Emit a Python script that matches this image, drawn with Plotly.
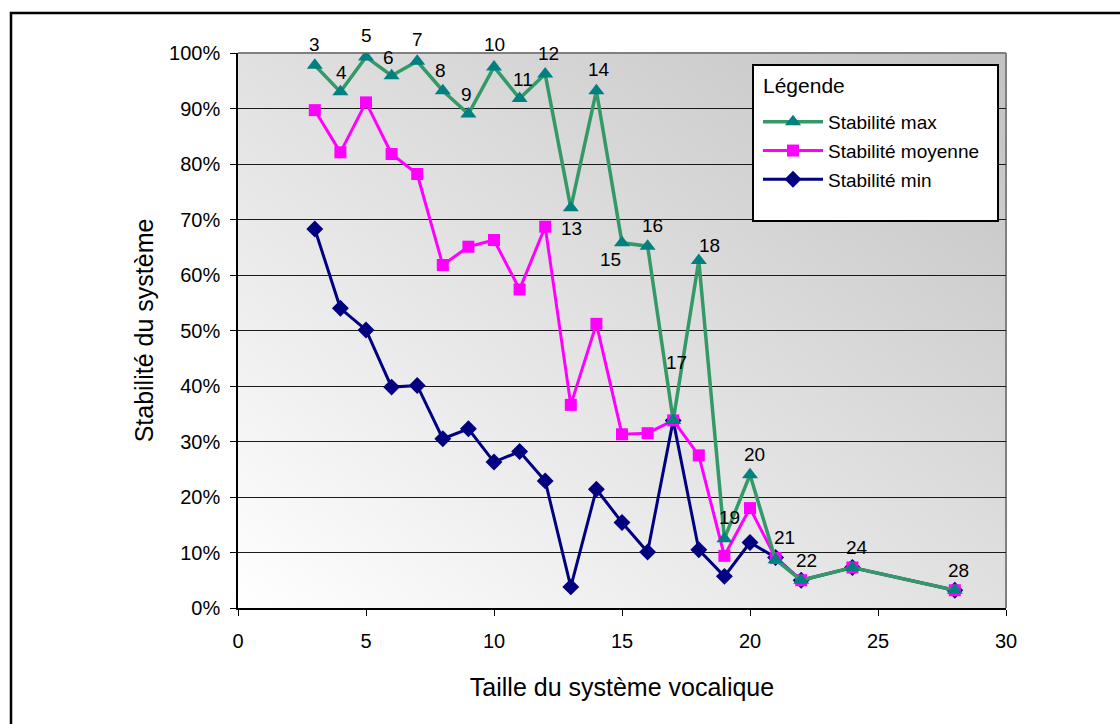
import base64
import plotly.graph_objects as go

# Vowel-system size (x) and stability (fraction) per series
sizes = [3, 4, 5, 6, 7, 8, 9, 10, 11, 12, 13, 14, 15, 16, 17, 18, 19, 20, 21, 22, 24, 28]
stab_max = [0.978, 0.930, 0.993, 0.959, 0.985, 0.932, 0.890, 0.975, 0.918, 0.962, 0.721, 0.932,
            0.658, 0.652, 0.338, 0.626, 0.125, 0.240, 0.087, 0.050, 0.073, 0.032]
stab_moy = [0.897, 0.821, 0.911, 0.818, 0.782, 0.618, 0.651, 0.663, 0.574, 0.687, 0.366, 0.512,
            0.313, 0.315, 0.338, 0.275, 0.094, 0.180, 0.090, 0.050, 0.073, 0.032]
stab_min = [0.683, 0.540, 0.501, 0.398, 0.401, 0.305, 0.323, 0.263, 0.282, 0.229, 0.038, 0.214,
            0.154, 0.101, 0.338, 0.105, 0.057, 0.118, 0.091, 0.050, 0.073, 0.032]

x_ticks = [0, 5, 10, 15, 20, 25, 30]
y_ticks = [0, 0.1, 0.2, 0.3, 0.4, 0.5, 0.6, 0.7, 0.8, 0.9, 1.0]

# pixel offsets of each size label relative to its "max" point
label_offsets = {
    3: (0, 21), 4: (1, 19), 5: (0, 21), 6: (-3, 18), 7: (0, 22), 8: (-2, 20), 9: (-2, 20),
    10: (0, 22), 11: (3, 19), 12: (3, 21), 13: (1, -21), 14: (3, 21), 15: (-12, -17),
    16: (5, 21), 17: (3, 58), 18: (11, 15), 19: (5, 21), 20: (4, 20), 21: (9, 22),
    22: (5, 20), 24: (5, 20), 28: (4, 20),
}

FONT = "Liberation Sans, Arial, sans-serif"

fig = go.Figure()

fig.add_trace(go.Scatter(
    x=sizes, y=stab_min, mode="lines+markers", name="Stabilité min",
    line=dict(color="#000080", width=3),
    marker=dict(symbol="diamond", size=13, color="#000080"),
    legendrank=3, legendgroup="c",
))
fig.add_trace(go.Scatter(
    x=sizes, y=stab_moy, mode="lines+markers", name="Stabilité moyenne",
    line=dict(color="#FF00FF", width=3),
    marker=dict(symbol="square", size=12, color="#FF00FF"),
    legendrank=2, legendgroup="b",
))
fig.add_trace(go.Scatter(
    x=sizes, y=stab_max, mode="lines+markers", name="Stabilité max",
    line=dict(color="#339966", width=3.5),
    marker=dict(symbol="triangle-up", size=14, color="#008080"),
    legendrank=1, legendgroup="a",
))

for s, v in zip(sizes, stab_max):
    dx, dy = label_offsets[s]
    fig.add_annotation(x=s, y=v, text=str(s), showarrow=False, xshift=dx, yshift=dy,
                       font=dict(family=FONT, size=19, color="black"))

# diagonal grey gradient behind the plot area
svg = ("<svg xmlns='http://www.w3.org/2000/svg' width='768' height='555' preserveAspectRatio='none'>"
       "<defs><linearGradient id='g' x1='0' y1='1' x2='1' y2='0'>"
       "<stop offset='0' stop-color='#ffffff'/><stop offset='1' stop-color='#c2c2c2'/>"
       "</linearGradient></defs><rect width='768' height='555' fill='url(#g)'/></svg>")
bg_src = "data:image/svg+xml;base64," + base64.b64encode(svg.encode()).decode()
fig.add_layout_image(source=bg_src, xref="paper", yref="paper", x=0, y=1, sizex=1, sizey=1,
                     sizing="stretch", xanchor="left", yanchor="top", layer="below")

L, R, T, B = 238, 114, 53, 116
W, H = 1120, 724
PW, PH = W - L - R, H - T - B


def px(xp):
    return (xp - L) / PW


def py(yp):
    return (H - B - yp) / PH


# grey top/right border of the plot area
fig.add_shape(type="line", xref="paper", yref="paper", x0=0, x1=1, y0=1, y1=1,
              line=dict(color="#808080", width=2), layer="between")
fig.add_shape(type="line", xref="paper", yref="paper", x0=1, x1=1, y0=0, y1=1,
              line=dict(color="#808080", width=2), layer="between")
# legend frame
fig.add_shape(type="rect", xref="paper", yref="paper", x0=px(753), x1=px(998), y0=py(221), y1=py(65),
              line=dict(color="black", width=2), fillcolor="white", layer="above")
# outer chart frame
fig.add_shape(type="rect", xref="paper", yref="paper", x0=px(11), x1=px(1135), y0=py(740), y1=py(13),
              line=dict(color="black", width=2.5), fillcolor="rgba(0,0,0,0)", layer="above")
# legend heading
fig.add_annotation(xref="paper", yref="paper", x=px(761), y=py(86), xanchor="left", yanchor="middle",
                   text="Légende", showarrow=False, font=dict(family=FONT, size=21, color="black"))

fig.update_layout(
    width=W, height=H,
    margin=dict(l=L, r=R, t=T, b=B, pad=0),
    paper_bgcolor="white", plot_bgcolor="rgba(0,0,0,0)",
    font=dict(family=FONT, color="black"),
    showlegend=True,
    legend=dict(
        x=px(758), y=py(103), xanchor="left", yanchor="top",
        bgcolor="rgba(0,0,0,0)", borderwidth=0,
        font=dict(family=FONT, size=19),
        itemwidth=60, tracegroupgap=1,
    ),
    xaxis=dict(
        range=[0, 30], tickvals=x_ticks, ticktext=[str(t) for t in x_ticks],
        showgrid=False, zeroline=False,
        showline=True, linecolor="black", linewidth=1.5,
        ticks="outside", ticklen=6, tickcolor="black", tickwidth=1,
        tickfont=dict(family=FONT, size=20), ticklabelstandoff=8,
        title=dict(text="Taille du système vocalique", font=dict(family=FONT, size=25), standoff=28),
        automargin=False,
    ),
    yaxis=dict(
        range=[0, 1], tickvals=y_ticks, tickformat=".0%",
        showgrid=True, gridcolor="#1a1a1a", gridwidth=1, zeroline=False,
        showline=True, linecolor="black", linewidth=1.5,
        ticks="outside", ticklen=6, tickcolor="black", tickwidth=1,
        tickfont=dict(family=FONT, size=20), ticklabelstandoff=6,
        title=dict(text="Stabilité du système", font=dict(family=FONT, size=25), standoff=8),
        automargin=False,
    ),
)

fig.write_html("out.html")
